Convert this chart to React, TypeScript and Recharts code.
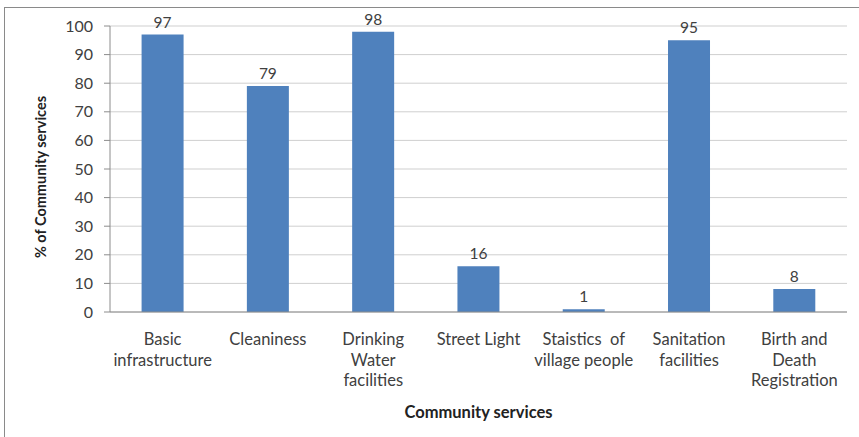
import { Bar, BarChart, CartesianGrid, LabelList, XAxis, YAxis } from "recharts";

const categories = [
  "Basic\ninfrastructure",
  "Cleaniness",
  "Drinking\nWater\nfacilities",
  "Street Light",
  "Staistics  of\nvillage people",
  "Sanitation\nfacilities",
  "Birth and\nDeath\nRegistration",
];
const percentages = [97, 79, 98, 16, 1, 95, 8];
const yTicks = [0, 10, 20, 30, 40, 50, 60, 70, 80, 90, 100];
const boundaryTicks = [0, 1, 2, 3, 4, 5, 6, 7];

const data = categories.map((name, i) => ({ name, value: percentages[i], slot: i + 0.5 }));

const FONT = "Lato, 'Open Sans', sans-serif";
const TEXT = "#404040";

function CategoryTick(props: any) {
  const { x, y, payload } = props;
  const lines = String(payload.value).split("\n");
  return (
    <text x={x} y={y} textAnchor="middle" fill={TEXT} fontFamily={FONT} fontSize={16.5}>
      {lines.map((line, i) => (
        <tspan key={i} x={x} dy={i === 0 ? 24 : 20.5} style={{ whiteSpace: "pre" }}>
          {line}
        </tspan>
      ))}
    </text>
  );
}

function YTitle(props: any) {
  const { viewBox } = props;
  const cx = viewBox.x + 40;
  const cy = viewBox.y + viewBox.height / 2 + 8;
  return (
    <text
      x={cx}
      y={cy}
      transform={`rotate(-90, ${cx}, ${cy})`}
      textAnchor="middle"
      dominantBaseline="central"
      fontFamily={FONT}
      fontSize={14.5}
      fontWeight={700}
      fill="#222"
    >
      % of Community services
    </text>
  );
}

export default function App() {
  return (
    <div
      style={{
        position: "absolute",
        left: 0,
        top: 0,
        width: 859,
        height: 437,
        overflow: "hidden",
        background: "#fff",
      }}
    >
      <div
        style={{
          position: "absolute",
          left: 4,
          top: 7,
          width: 900,
          height: 500,
          borderLeft: "1.5px solid #8a8a8a",
          borderTop: "1.5px solid #8a8a8a",
        }}
      />
      <div style={{ position: "absolute", left: 0, top: 0 }}>
        <BarChart
          width={859}
          height={437}
          data={data}
          margin={{ top: 26, right: 12, left: 0, bottom: 14 }}
          barCategoryGap="30%"
        >
          <CartesianGrid vertical={false} stroke="#cfcfcf" xAxisId="a" />
          <XAxis
            xAxisId="a"
            dataKey="slot"
            type="number"
            domain={[0, 7]}
            ticks={boundaryTicks}
            height={1}
            tick={false}
            tickSize={6}
            stroke="#8c8c8c"
          />
          <XAxis
            xAxisId="b"
            dataKey="name"
            height={110}
            interval={0}
            axisLine={false}
            tickLine={false}
            tick={<CategoryTick />}
            label={{
              value: "Community services",
              position: "insideBottom",
              offset: 5,
              style: { fontFamily: FONT, fontSize: 16.5, fontWeight: 700, fill: "#222" },
            }}
          />
          <YAxis
            width={110}
            domain={[0, 100]}
            ticks={yTicks}
            interval={0}
            tickSize={6}
            tickMargin={11}
            stroke="#8c8c8c"
            tick={{ fill: TEXT, fontFamily: FONT, fontSize: 16 }}
            label={<YTitle />}
          />
          <Bar dataKey="value" xAxisId="b" fill="#4F81BD" isAnimationActive={false}>
            <LabelList
              dataKey="value"
              position="top"
              offset={7}
              style={{ fill: TEXT, fontFamily: FONT, fontSize: 15.5 }}
            />
          </Bar>
        </BarChart>
      </div>
    </div>
  );
}
